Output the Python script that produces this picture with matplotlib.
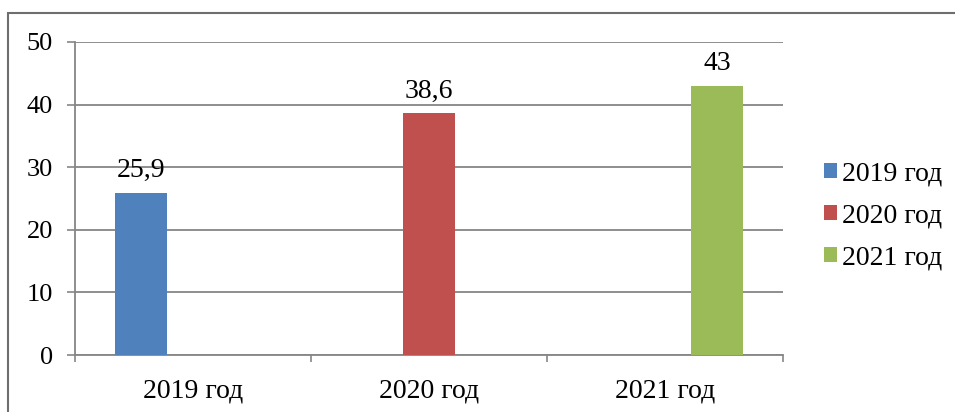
import matplotlib
matplotlib.use("Agg")
import matplotlib.pyplot as plt
import numpy as np
from matplotlib.patches import Rectangle

categories = ["2019 год", "2020 год", "2021 год"]
series_names = ["2019 год", "2020 год", "2021 год"]
series_values = [
    [25.9, 0, 0],
    [0, 38.6, 0],
    [0, 0, 43],
]
value_labels = ["25,9", "38,6", "43"]
colors = ["#4F81BD", "#C0504D", "#9BBB59"]
yticks = [0, 10, 20, 30, 40, 50]

plt.rcParams['font.family'] = ['Liberation Serif', 'DejaVu Serif']

fig = plt.figure(figsize=(9.55, 4.12), dpi=100)
ax = fig.add_axes([75/955, 1-355/412, (783-75)/955, (355-42)/412])

x = np.arange(len(categories))
w = 0.22
grid_c = "#868686"
for i, (name, vals, c) in enumerate(zip(series_names, series_values, colors)):
    bars = ax.bar(x + (i-1)*w, vals, w, color=c, label=name, zorder=3)
    for j, v in enumerate(vals):
        if v:
            ax.annotate(value_labels[i], (x[j] + (i-1)*w, v), xytext=(0, 7),
                        textcoords="offset points", ha="center", va="bottom",
                        fontsize=20, color="black", zorder=4)

ax.set_xlim(-0.5, 2.5)
ax.set_ylim(0, 50)
ax.set_yticks(yticks)
ax.set_xticks(x)
ax.set_xticklabels(categories)
ax.set_xticks([-0.5, 0.5, 1.5, 2.5], minor=True)
ax.tick_params(axis='x', which='major', length=0, pad=17, labelsize=20)
ax.tick_params(axis='x', which='minor', length=5, color=grid_c, width=1.2)
ax.tick_params(axis='y', length=6, color=grid_c, width=1.2, labelsize=19, pad=10)
ax.yaxis.grid(True, color=grid_c, linewidth=1.3, zorder=0)
ax.set_axisbelow(True)
for s in ["top", "right"]:
    ax.spines[s].set_visible(False)
for s in ["left", "bottom"]:
    ax.spines[s].set_color(grid_c)
    ax.spines[s].set_linewidth(1.3)

leg = fig.legend(loc="center left", bbox_to_anchor=(824/955, 1-216/412),
                 frameon=False, fontsize=20, handlelength=0.45, handleheight=0.45,
                 handletextpad=0.2, labelspacing=0.6, borderaxespad=0, borderpad=0)

fig.patches.append(Rectangle((8/955, -0.1), 1.1, 1-13/412+0.1, transform=fig.transFigure,
                             fill=False, edgecolor="#6e6e6e", linewidth=1.5))

fig.savefig("out.png", dpi=100)
